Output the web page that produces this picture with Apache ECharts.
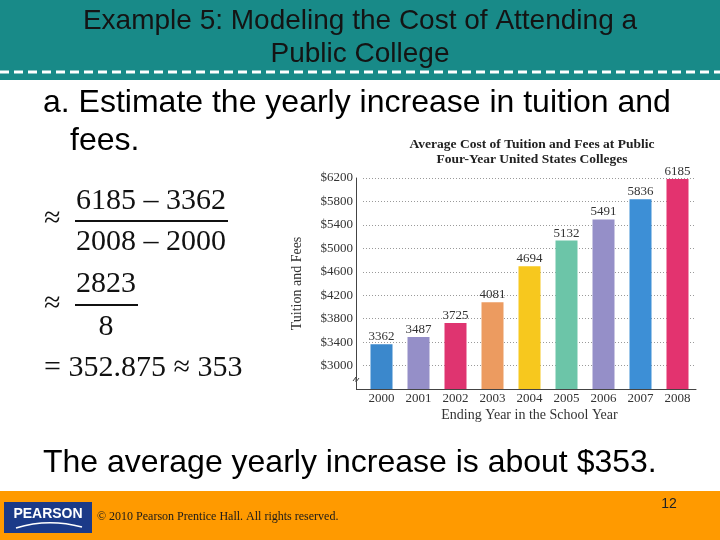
<!DOCTYPE html>
<html>
<head>
<meta charset="utf-8">
<script src="https://cdn.jsdelivr.net/npm/echarts@6/dist/echarts.min.js"></script>
<style>
html,body{margin:0;padding:0;background:#fff;}
#c{width:720px;height:540px;}
</style>
</head>
<body>
<div id="c"></div>
<script>
// ---- data ----
const years = ['2000','2001','2002','2003','2004','2005','2006','2007','2008'];
const tuition = [3362, 3487, 3725, 4081, 4694, 5132, 5491, 5836, 6185];
const yTickValues = [3000, 3400, 3800, 4200, 4600, 5000, 5400, 5800, 6200];
const barColors = ['#3b88cc','#958fc8','#df3470','#ec9b60','#f7c81e','#6cc5a8','#958fc8','#3d8fd6','#e3336f'];

const SANS = '"Liberation Sans", Arial, sans-serif';
const SERIF = '"Liberation Serif", "Times New Roman", serif';

const chart = echarts.init(document.getElementById('c'), null, {renderer: 'canvas'});

const mathFont = '30px ' + SERIF;

chart.setOption({
  animation: false,
  backgroundColor: '#ffffff',
  title: {
    text: 'Average Cost of Tuition and Fees at Public\nFour-Year United States Colleges',
    left: 527, top: 132, textAlign: 'center',
    textStyle: {fontFamily: SERIF, fontWeight: 'bold', fontSize: 13.5, lineHeight: 15, color: '#222'}
  },
  grid: {left: 363, right: 24, top: 178, bottom: 151, containLabel: false},
  xAxis: {
    type: 'category',
    data: years,
    name: 'Ending Year in the School Year',
    nameLocation: 'middle',
    nameGap: 19,
    nameTextStyle: {fontFamily: SERIF, fontSize: 14, color: '#333'},
    axisLine: {lineStyle: {color: '#444', width: 1}},
    axisTick: {show: false},
    axisLabel: {fontFamily: SERIF, fontSize: 13, color: '#333', margin: 3}
  },
  yAxis: {
    type: 'value',
    min: 2600, max: 6200, interval: 400,
    offset: 7,
    name: 'Tuition and Fees',
    nameLocation: 'middle',
    nameGap: 52,
    nameTextStyle: {fontFamily: SERIF, fontSize: 14, color: '#333'},
    axisLine: {show: true, lineStyle: {color: '#444', width: 1}},
    axisTick: {show: false},
    axisLabel: {
      fontFamily: SERIF, fontSize: 13, color: '#333', margin: 3,
      formatter: v => yTickValues.indexOf(v) >= 0 ? '$' + v : ''
    },
    splitLine: {show: true, lineStyle: {color: '#9a9a9a', type: [1, 2], width: 1}}
  },
  series: [{
    type: 'bar',
    data: tuition.map((v, i) => ({value: v, itemStyle: {color: barColors[i]}})),
    barWidth: 22,
    label: {show: true, position: 'top', distance: 1, fontFamily: SERIF, fontSize: 13, color: '#333'}
  }],
  graphic: [
    // header
    {type: 'rect', shape: {x: 0, y: 0, width: 720, height: 80}, style: {fill: '#188a88'}, z: -1},
    {type: 'line', shape: {x1: 0, y1: 72, x2: 720, y2: 72}, style: {stroke: '#ffffff', lineWidth: 3, lineDash: [9, 5]}},
    {type: 'text', x: 360, y: 21, style: {text: 'Example 5: Modeling the Cost of Attending a', font: '28px ' + SANS, fill: '#141414', align: 'center', verticalAlign: 'middle'}},
    {type: 'text', x: 360, y: 54, style: {text: 'Public College', font: '28px ' + SANS, fill: '#141414', align: 'center', verticalAlign: 'middle'}},
    // question
    {type: 'text', x: 43, y: 103, style: {text: 'a. Estimate the yearly increase in tuition and', font: '32px ' + SANS, fill: '#000', verticalAlign: 'middle'}},
    {type: 'text', x: 70, y: 141, style: {text: 'fees.', font: '32px ' + SANS, fill: '#000', verticalAlign: 'middle'}},
    // math
    {type: 'text', x: 44, y: 219, style: {text: '≈', font: mathFont, fill: '#111', verticalAlign: 'middle'}},
    {type: 'text', x: 151, y: 201, style: {text: '6185 – 3362', font: mathFont, fill: '#111', align: 'center', verticalAlign: 'middle'}},
    {type: 'line', shape: {x1: 75, y1: 221, x2: 228, y2: 221}, style: {stroke: '#111', lineWidth: 2}},
    {type: 'text', x: 151, y: 242, style: {text: '2008 – 2000', font: mathFont, fill: '#111', align: 'center', verticalAlign: 'middle'}},
    {type: 'text', x: 44, y: 304, style: {text: '≈', font: mathFont, fill: '#111', verticalAlign: 'middle'}},
    {type: 'text', x: 106, y: 284, style: {text: '2823', font: mathFont, fill: '#111', align: 'center', verticalAlign: 'middle'}},
    {type: 'line', shape: {x1: 75, y1: 305, x2: 138, y2: 305}, style: {stroke: '#111', lineWidth: 2}},
    {type: 'text', x: 106, y: 327, style: {text: '8', font: mathFont, fill: '#111', align: 'center', verticalAlign: 'middle'}},
    {type: 'text', x: 44, y: 368, style: {text: '= 352.875 ≈ 353', font: mathFont, fill: '#111', verticalAlign: 'middle'}},
    // conclusion
    {type: 'text', x: 43, y: 463, style: {text: 'The average yearly increase is about $353.', font: '32px ' + SANS, fill: '#000', verticalAlign: 'middle'}},
    // axis extension & break mark
    {type: 'line', shape: {x1: 356, y1: 389.5, x2: 363, y2: 389.5}, style: {stroke: '#444', lineWidth: 1}},
    {type: 'polyline', shape: {points: [[353, 381], [356, 377], [356, 382], [359, 378]]}, style: {stroke: '#444', lineWidth: 1, fill: null}},
    // footer
    {type: 'rect', shape: {x: 0, y: 491, width: 720, height: 49}, style: {fill: '#ff9a00'}},
    {type: 'rect', shape: {x: 4, y: 502, width: 88, height: 31}, style: {fill: '#1b3a88'}},
    {type: 'text', x: 48, y: 514, style: {text: 'PEARSON', font: 'bold 14px ' + SANS, fill: '#ffffff', align: 'center', verticalAlign: 'middle'}},
    {type: 'bezierCurve', shape: {x1: 16, y1: 528, x2: 82, y2: 527, cpx1: 48, cpy1: 518}, style: {stroke: '#ffffff', lineWidth: 1.5, fill: null}},
    {type: 'text', x: 97, y: 517, style: {text: '© 2010 Pearson Prentice Hall. All rights reserved.', font: '12px ' + SERIF, fill: '#1a1a1a', verticalAlign: 'middle'}},
    {type: 'text', x: 669, y: 504, style: {text: '12', font: '14px ' + SANS, fill: '#222', align: 'center', verticalAlign: 'middle'}}
  ]
});
</script>
</body>
</html>
